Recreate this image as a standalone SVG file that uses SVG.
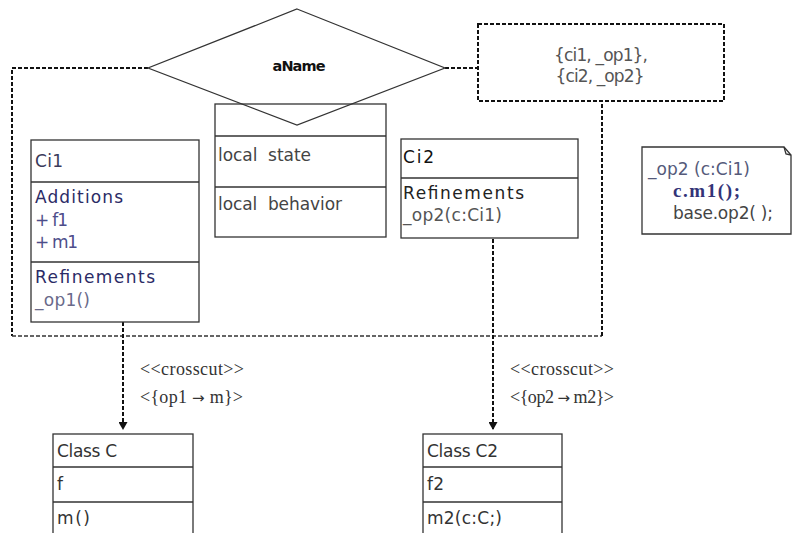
<svg xmlns="http://www.w3.org/2000/svg" width="793" height="533" viewBox="0 0 793 533">
<defs>
<style>
.box{fill:#fff;stroke:#333;stroke-width:1.3}
.ln{stroke:#333;stroke-width:1.3;fill:none}
.dash{stroke:#111;stroke-width:2;stroke-dasharray:4 2;fill:none}
.dashthin{stroke:#333;stroke-width:1.4;stroke-dasharray:4 2;fill:none}
.sans{font-family:"DejaVu Sans","Liberation Sans",sans-serif;font-size:17px}
.serif{font-family:"Liberation Serif","DejaVu Serif",serif;font-size:18px;fill:#333}
.arw{font-family:"DejaVu Sans",sans-serif;font-size:15px}
.navy{fill:#2b2b66}
.blue{fill:#4d4d8a}
.grey{fill:#555}
.dk{fill:#222}
</style>
<marker id="arr" markerUnits="userSpaceOnUse" markerWidth="9" markerHeight="9" refX="8" refY="4.5" orient="auto">
<path d="M0,0 L8,4.5 L0,9 Z" fill="#111"/>
</marker>
</defs>
<rect width="793" height="533" fill="#fff"/>

<g id="connectors">
<polyline class="dash" points="148,68 12,68 12,336"/>
<line class="dashthin" x1="12" y1="336" x2="602" y2="336"/>
<line class="dash" x1="602" y1="336" x2="602" y2="102"/>
<line class="dash" x1="445" y1="68" x2="478" y2="68"/>
<line class="dash" x1="123" y1="322" x2="123" y2="430" marker-end="url(#arr)"/>
<line class="dash" x1="493" y1="239" x2="493" y2="430" marker-end="url(#arr)"/>
<text class="serif" x="140" y="375" textLength="104">&lt;&lt;crosscut&gt;&gt;</text>
<text class="serif" x="140" y="403" textLength="103">&lt;{op1 <tspan class="arw">→</tspan> m}&gt;</text>
<text class="serif" x="510" y="375" textLength="104">&lt;&lt;crosscut&gt;&gt;</text>
<text class="serif" x="510" y="403" textLength="104">&lt;{op2 <tspan class="arw">→</tspan> m2}&gt;</text>
</g>

<g id="local">
<rect class="ln" x="215" y="104" width="171" height="133"/>
<line class="ln" x1="215" y1="136" x2="386" y2="136"/>
<line class="ln" x1="215" y1="187" x2="386" y2="187"/>
<text class="sans" x="218" y="161" fill="#444" textLength="93" xml:space="preserve">local  state</text>
<text class="sans" x="218" y="210" fill="#444" textLength="124" xml:space="preserve">local  behavior</text>
</g>

<g id="aName">
<polygon points="297,9 445,68 297,125 148,68" fill="none" stroke="#333" stroke-width="1.2"/>
<text x="299" y="71" text-anchor="middle" font-family="'DejaVu Sans','Liberation Sans',sans-serif" font-weight="bold" font-size="14.5" fill="#111" textLength="53">aName</text>
</g>

<g id="binding">
<rect class="dash" x="478" y="24" width="246" height="77"/>
<text class="sans grey" x="601" y="61" text-anchor="middle" font-size="15.5" textLength="94">{ci1, _op1},</text>
<text class="sans grey" x="600" y="82" text-anchor="middle" font-size="15.5" textLength="89">{ci2, _op2}</text>
</g>

<g id="Ci1">
<rect class="box" x="31" y="140" width="168" height="182"/>
<line class="ln" x1="31" y1="182" x2="199" y2="182"/>
<line class="ln" x1="31" y1="262" x2="199" y2="262"/>
<text class="sans" x="35" y="167" fill="#3a3a5a" textLength="28">Ci1</text>
<text class="sans navy" x="35" y="203" textLength="88">Additions</text>
<text class="sans blue" x="35" y="226" textLength="33">+ f1</text>
<text class="sans blue" x="35" y="248" textLength="43">+ m1</text>
<text class="sans navy" x="35" y="283" textLength="120">Refinements</text>
<text class="sans" x="35" y="306" fill="#6a6a8a" textLength="55">_op1()</text>
</g>

<g id="Ci2">
<rect class="box" x="401" y="139" width="177" height="99"/>
<line class="ln" x1="401" y1="178" x2="578" y2="178"/>
<text class="sans" x="403" y="163" fill="#111" textLength="31">Ci2</text>
<text class="sans dk" x="403" y="199" textLength="121">Refinements</text>
<text class="sans grey" x="403" y="221" textLength="99">_op2(c:Ci1)</text>
</g>

<g id="note">
<path class="ln" d="M642,147 H784 L791,155 V234 H642 Z" stroke-width="1.2"/>
<path class="ln" d="M784,147 L786,154 L791,155" stroke-width="1"/>
<text class="sans" x="648" y="175" fill="#555a7a" textLength="102">_op2 (c:Ci1)</text>
<text x="673" y="197" font-family="'Liberation Serif','DejaVu Serif',serif" font-weight="bold" font-size="19" fill="#333377" textLength="67">c.m1();</text>
<text class="sans" x="673" y="219" fill="#444" textLength="100">base.op2( );</text>
</g>

<g id="ClassC">
<rect class="box" x="53" y="434" width="140" height="110"/>
<line class="ln" x1="53" y1="467" x2="193" y2="467"/>
<line class="ln" x1="53" y1="502" x2="193" y2="502"/>
<text class="sans" x="57" y="457" fill="#333" textLength="60">Class C</text>
<text class="sans" x="57" y="490" fill="#333">f</text>
<text class="sans" x="57" y="524" fill="#333" textLength="33">m()</text>
</g>

<g id="ClassC2">
<rect class="box" x="423" y="434" width="139" height="110"/>
<line class="ln" x1="423" y1="467" x2="562" y2="467"/>
<line class="ln" x1="423" y1="502" x2="562" y2="502"/>
<text class="sans" x="427" y="457" fill="#333" textLength="71">Class C2</text>
<text class="sans" x="427" y="490" fill="#333" textLength="17">f2</text>
<text class="sans" x="427" y="524" fill="#333" textLength="75">m2(c:C;)</text>
</g>
</svg>
